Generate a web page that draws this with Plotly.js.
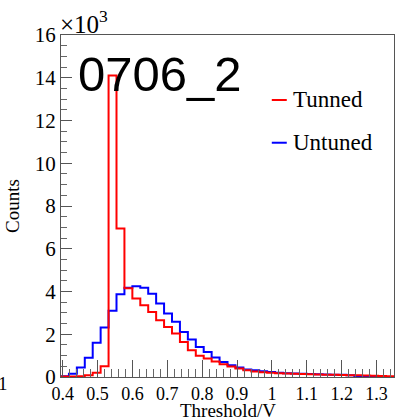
<!DOCTYPE html>
<html>
<head>
<meta charset="utf-8">
<script src="https://cdn.plot.ly/plotly-3.0.1.min.js"></script>
<style>
html,body{margin:0;padding:0;background:#fff;}
#chart{width:396px;height:418px;}
</style>
</head>
<body>
<div id="chart"></div>
<script>
// Histogram binning (ROOT-style TH1: 42 bins)
const binLow = 0.395;
const binHigh = 1.35;
const nBins = 42;

// Bin contents (counts)
const tunned = [20, 20, 40, 80, 200, 500, 14100, 6950, 4150, 3670, 3360, 3040, 2660, 2340, 2030, 1640, 1250, 1000, 860, 720, 600, 490, 400, 320, 260, 220, 200, 180, 160, 150, 140, 130, 120, 110, 100, 90, 80, 80, 70, 60, 50, 40];
const untuned = [30, 150, 450, 900, 1600, 2320, 3100, 3870, 4170, 4250, 4180, 3900, 3440, 2970, 2580, 2100, 1750, 1400, 1170, 910, 700, 550, 440, 350, 310, 270, 230, 200, 180, 160, 150, 140, 130, 120, 110, 100, 80, 0, 0, 0, 0, 0];

const seriesNames = ["Tunned", "Untuned"];
const seriesColors = ["#ff0000", "#0000ff"];

const xTickVals = [0.4, 0.5, 0.6, 0.7, 0.8, 0.9, 1.0, 1.1, 1.2, 1.3];
const xTickText = ["0.4", "0.5", "0.6", "0.7", "0.8", "0.9", "1", "1.1", "1.2", "1.3"];
const yTickVals = [0, 2000, 4000, 6000, 8000, 10000, 12000, 14000, 16000];
const yTickText = ["0", "2", "4", "6", "8", "10", "12", "14", "16"];

const plotTitle = "0706_2";
const xTitle = "Threshold/V";
const yTitle = "Counts";

// step-line representation of a histogram
function stepXY(contents) {
  const w = (binHigh - binLow) / nBins;
  const xs = [], ys = [];
  for (let i = 0; i < contents.length; i++) { xs.push(binLow + i * w); ys.push(contents[i]); }
  xs.push(binHigh); ys.push(contents[contents.length - 1]);
  return {x: xs, y: ys};
}

const serif = "Liberation Serif, Times New Roman, serif";
const traces = [untuned, tunned].map((c, idx) => {
  const s = stepXY(c);
  const k = idx === 0 ? 1 : 0;
  return {x: s.x, y: s.y, type: "scatter", mode: "lines",
    line: {shape: "hv", color: seriesColors[k], width: 2}, name: seriesNames[k],
    showlegend: false, hoverinfo: "skip"};
});

const layout = {
  width: 396, height: 418,
  margin: {l: 61, r: 2, t: 35, b: 41},
  paper_bgcolor: "#fff", plot_bgcolor: "#fff",
  showlegend: false,
  xaxis: {
    range: [binLow, binHigh],
    tickmode: "array", tickvals: xTickVals, ticktext: xTickText,
    ticks: "inside", ticklen: 17, tickcolor: "#555", tickwidth: 1,
    minor: {tickmode: "linear", tick0: 0.4, dtick: 0.02, ticks: "inside", ticklen: 8, tickcolor: "#666", tickwidth: 1, showgrid: false},
    showgrid: false, zeroline: false,
    showline: true, linecolor: "#555", linewidth: 1, mirror: true,
    tickfont: {family: serif, size: 18, color: "#000"},
    automargin: false
  },
  yaxis: {
    range: [0, 16000],
    tickmode: "array", tickvals: yTickVals, ticktext: yTickText,
    ticks: "inside", ticklen: 11, tickcolor: "#555", tickwidth: 1,
    minor: {tickmode: "linear", tick0: 0, dtick: 500, ticks: "inside", ticklen: 6, tickcolor: "#666", tickwidth: 1, showgrid: false},
    showgrid: false, zeroline: false,
    showline: true, linecolor: "#555", linewidth: 1, mirror: true,
    tickfont: {family: serif, size: 21, color: "#000"},
    title: {text: yTitle, font: {family: serif, size: 19, color: "#000"}, standoff: 10},
    automargin: false
  },
  annotations: [
    {xref: "paper", yref: "paper", x: 0.5, y: -0.098, xanchor: "center", yanchor: "middle",
     text: xTitle, showarrow: false, font: {family: serif, size: 19, color: "#000"}},
    {xref: "paper", yref: "paper", x: -0.008, y: 0.985, xanchor: "left", yanchor: "bottom",
     text: "×10<sup>3</sup>", showarrow: false, font: {family: serif, size: 25, color: "#000"}},
    {xref: "paper", yref: "paper", x: 0.045, y: 0.885, xanchor: "left", yanchor: "middle",
     text: plotTitle, showarrow: false, font: {family: "Liberation Sans, Arial, sans-serif", size: 49, color: "#000"}},
    {xref: "paper", yref: "paper", x: 0.69, y: 0.81, xanchor: "left", yanchor: "middle",
     text: seriesNames[0], showarrow: false, font: {family: serif, size: 23, color: "#000"}},
    {xref: "paper", yref: "paper", x: 0.69, y: 0.685, xanchor: "left", yanchor: "middle",
     text: seriesNames[1], showarrow: false, font: {family: serif, size: 23, color: "#000"}},
    {xref: "paper", yref: "paper", x: -0.175, y: -0.02, xanchor: "center", yanchor: "middle",
     text: "1", showarrow: false, font: {family: serif, size: 19, color: "#000"}}
  ],
  shapes: [
    {type: "line", xref: "paper", yref: "paper", x0: 0.633, x1: 0.678, y0: 0.81, y1: 0.81, line: {color: seriesColors[0], width: 2}},
    {type: "line", xref: "paper", yref: "paper", x0: 0.633, x1: 0.678, y0: 0.685, y1: 0.685, line: {color: seriesColors[1], width: 2}}
  ]
};

Plotly.newPlot("chart", traces, layout, {staticPlot: true, displayModeBar: false});
</script>
</body>
</html>
